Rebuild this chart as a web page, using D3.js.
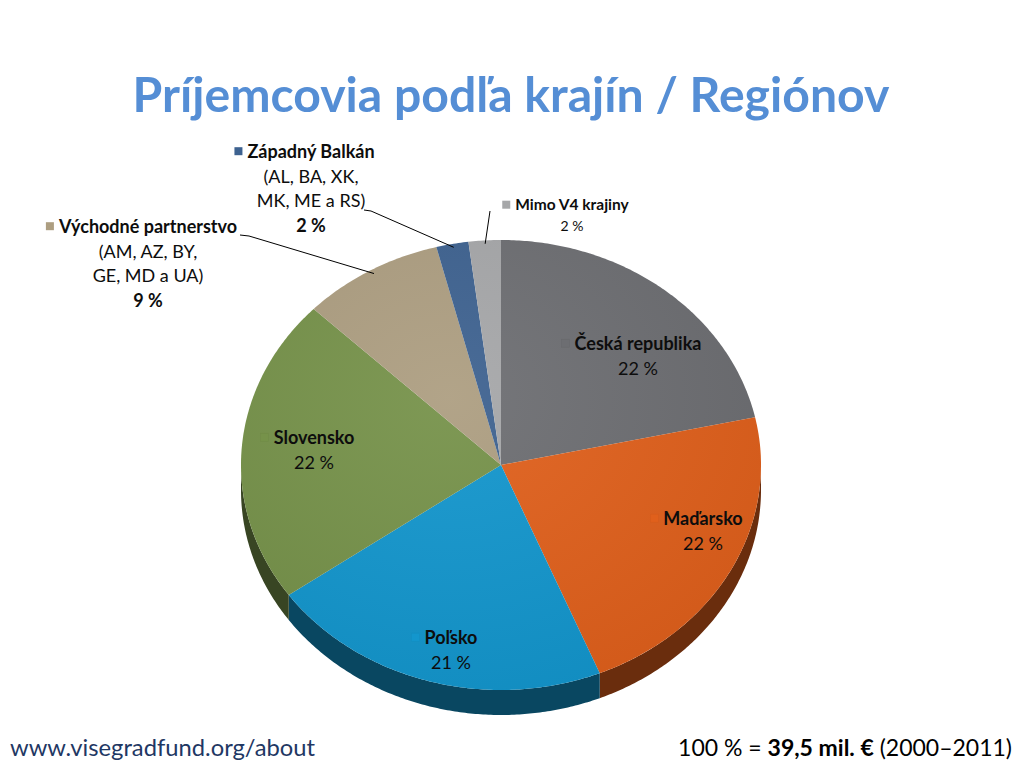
<!DOCTYPE html>
<html>
<head>
<meta charset="utf-8">
<script src="https://cdn.jsdelivr.net/npm/d3@7"></script>
<style>
  body { margin: 0; background: #fff; }
  svg { display: block; }
  text { font-family: Lato, 'Open Sans', sans-serif; }
</style>
</head>
<body>
<svg id="chart" width="1024" height="768"></svg>
<script>
// data (shares, labels as printed)
const categories = ['Česká republika', 'Maďarsko', 'Poľsko', 'Slovensko', 'Východné partnerstvo', 'Západný Balkán', 'Mimo V4 krajiny']
const shares = [21.6, 22.2, 21.4, 22, 8.8, 2, 2]
const shareLabels = ['22 %', '22 %', '21 %', '22 %', '9 %', '2 %', '2 %']
const subLines = [[], [], [], [], ['(AM, AZ, BY,', 'GE, MD a UA)'], ['(AL, BA, XK,', 'MK, ME a RS)'], []]
const colors = ['#6d6e72', '#e0601c', '#1396cd', '#76924a', '#ad9e81', '#3e6290', '#a6a7a9']

const titleText = 'Príjemcovia podľa krajín / Regiónov'
const sourceText = 'www.visegradfund.org/about'

// layout
const cx = 501, cy = 465, rx = 260, ry = 225, depth = 25
// label anchors: x = centre of name line, y = baseline of name line
const labelPos = [
  { x: 638, y: 350, size: 18, lh: 24.5, outside: false },
  { x: 703, y: 525, size: 18, lh: 24.5, outside: false },
  { x: 451, y: 644, size: 18, lh: 24.5, outside: false },
  { x: 314, y: 444, size: 18, lh: 24.5, outside: false },
  { x: 148, y: 233, size: 18, lh: 24.5, outside: true, lineStart: [240, 235], hook: 9 },
  { x: 311, y: 158, size: 18, lh: 24.5, outside: true, lineStart: [364, 210], hook: 7 },
  { x: 572, y: 210, size: 15.5, lh: 21, outside: true, lineStart: [490, 211], hook: 0 }
]

const svg = d3.select('#chart')

// unit circle -> ellipse
const sx = d3.scaleLinear().domain([-1, 1]).range([cx - rx, cx + rx])
const sy = d3.scaleLinear().domain([-1, 1]).range([cy - ry, cy + ry])
const px = function (a, k) { return sx((k || 1) * Math.sin(a)) }
const py = function (a, k) { return sy(-(k || 1) * Math.cos(a)) }

const pie = d3.pie().sort(null).value(function (d) { return d })
const arcs = pie(shares)

function arcPoints(a0, a1, dy) {
  var pts = []
  var n = Math.max(2, Math.ceil((a1 - a0) / 0.01))
  for (var i = 0; i <= n; i++) {
    var a = a0 + (a1 - a0) * i / n
    pts.push([px(a), py(a) + dy])
  }
  return pts
}

const line = d3.line()

// side walls (front half only)
const chartG = svg.append('g')
arcs.forEach(function (d, i) {
  var a0 = Math.max(d.startAngle, Math.PI / 2)
  var a1 = Math.min(d.endAngle, Math.PI * 1.5)
  if (a1 <= a0) return
  var top = arcPoints(a0, a1, 0)
  var bottom = arcPoints(a0, a1, depth).reverse()
  chartG.append('path')
    .attr('d', line(top.concat(bottom)) + 'Z')
    .attr('fill', d3.color(colors[i]).darker(2.1))
})

// top faces
arcs.forEach(function (d, i) {
  var pts = [[cx, cy]].concat(arcPoints(d.startAngle, d.endAngle, 0))
  chartG.append('path')
    .attr('d', line(pts) + 'Z')
    .attr('fill', colors[i])
})

// soft light on the top face
const defs = svg.append('defs')
const grad = defs.append('radialGradient').attr('id', 'shine')
  .attr('cx', '40%').attr('cy', '35%').attr('r', '70%')
grad.append('stop').attr('offset', '0%').attr('stop-color', '#fff').attr('stop-opacity', 0.06)
grad.append('stop').attr('offset', '100%').attr('stop-color', '#000').attr('stop-opacity', 0.06)
chartG.append('ellipse')
  .attr('cx', cx).attr('cy', cy).attr('rx', rx).attr('ry', ry)
  .attr('fill', 'url(#shine)')

// leader lines for the outside labels
arcs.forEach(function (d, i) {
  var lp = labelPos[i]
  if (!lp.outside) return
  var mid = (d.startAngle + d.endAngle) / 2
  var end = [px(mid, 0.97), py(mid, 0.985)]
  var pts = [lp.lineStart]
  if (lp.hook) pts.push([lp.lineStart[0] + lp.hook, lp.lineStart[1] + 1])
  pts.push(end)
  svg.append('path')
    .attr('d', line(pts))
    .attr('fill', 'none')
    .attr('stroke', '#000')
    .attr('stroke-width', 1)
})

// data labels
arcs.forEach(function (d, i) {
  var lp = labelPos[i]
  var g = svg.append('g').attr('transform', 'translate(' + lp.x + ',' + lp.y + ')')
  var name = g.append('text')
    .attr('text-anchor', 'middle')
    .attr('font-size', lp.size)
    .attr('font-weight', 'bold')
    .attr('fill', '#0d0d0d')
    .text(categories[i])
  var w = name.node().getComputedTextLength()
  g.append('rect')
    .attr('x', -w / 2 - 13).attr('y', -lp.size * 0.6)
    .attr('width', 8).attr('height', 8)
    .attr('fill', colors[i])
    .attr('stroke', lp.outside ? 'none' : d3.color(colors[i]).darker(0.15))
    .attr('stroke-width', 0.5)
  subLines[i].forEach(function (s, j) {
    g.append('text')
      .attr('text-anchor', 'middle')
      .attr('y', lp.lh * (j + 1))
      .attr('font-size', lp.size)
      .attr('fill', '#0d0d0d')
      .text(s)
  })
  g.append('text')
    .attr('text-anchor', 'middle')
    .attr('y', lp.lh * (subLines[i].length + 1))
    .attr('font-size', lp.size < 16 ? lp.size - 1.5 : lp.size)
    .attr('font-weight', lp.outside && lp.size >= 16 ? 'bold' : 'normal')
    .attr('fill', '#0d0d0d')
    .text(shareLabels[i])
})

// fit a text to a given width by adjusting its font size
function fitWidth(sel, width) {
  var fs = parseFloat(sel.attr('font-size'))
  var w = sel.node().getComputedTextLength()
  sel.attr('font-size', fs * width / w)
}

// title
const title = svg.append('text')
  .attr('x', 511).attr('y', 112)
  .attr('text-anchor', 'middle')
  .attr('font-size', 46)
  .attr('font-weight', 'bold')
  .attr('fill', '#558ed5')
  .text(titleText)
fitWidth(title, 757)

// footer
const src = svg.append('text')
  .attr('x', 10).attr('y', 756)
  .attr('font-size', 22)
  .attr('fill', '#1f3864')
  .text(sourceText)
fitWidth(src, 305)

const total = svg.append('text')
  .attr('x', 1012).attr('y', 756)
  .attr('text-anchor', 'end')
  .attr('font-size', 22)
  .attr('fill', '#000')
total.append('tspan').text('100 % = ')
total.append('tspan').attr('font-weight', 'bold').text('39,5 mil. €')
total.append('tspan').text(' (2000–2011)')
fitWidth(total, 334)
</script>
</body>
</html>
